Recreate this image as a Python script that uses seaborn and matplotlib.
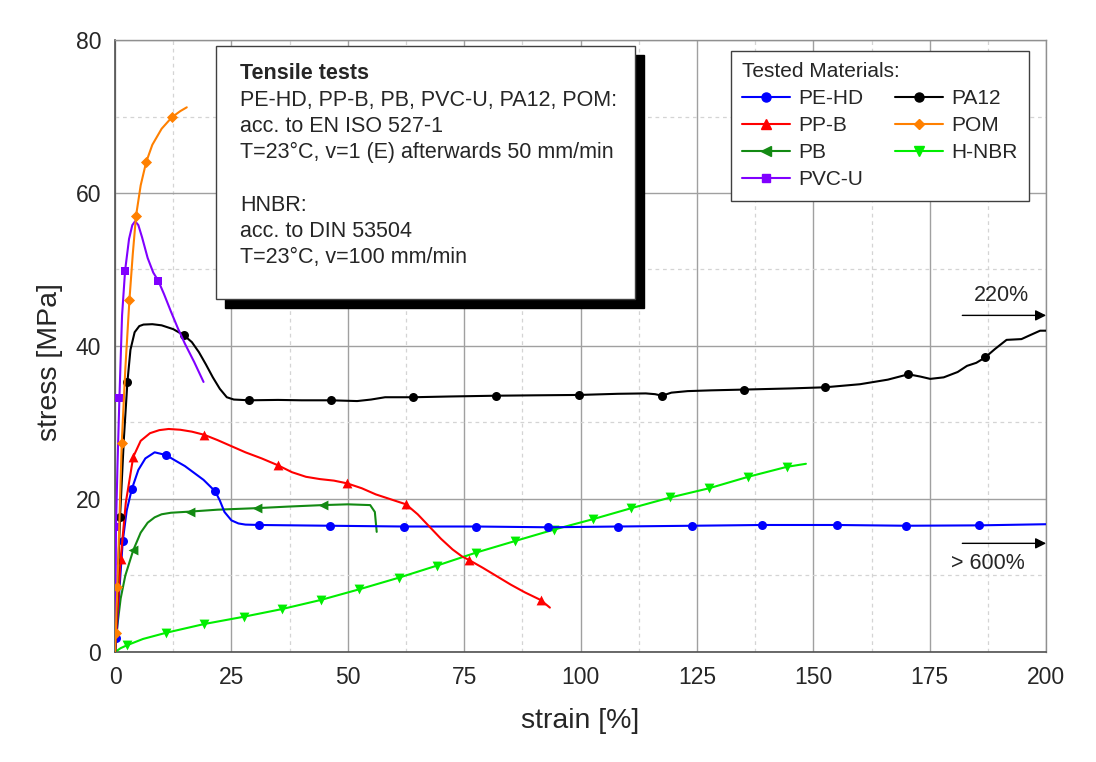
import matplotlib
matplotlib.use("Agg")
import matplotlib.pyplot as plt
import seaborn as sns
import numpy as np
from matplotlib.lines import Line2D
from matplotlib.patches import Rectangle
from matplotlib.ticker import MultipleLocator

# ---------------- data ----------------
materials = ["PE-HD", "PP-B", "PB", "PVC-U", "PA12", "POM", "H-NBR"]

pehd_x = [0, 0.3, 0.8, 1.65, 2.5, 3.6, 5, 6.5, 8.5, 10.9, 13, 15, 17, 19, 21.5, 22.5, 23.5, 25, 26.5, 28, 31, 46.2, 62, 77.5, 93, 108, 124, 139, 155, 170, 185.5, 200]
pehd_y = [0, 1.8, 7, 14.5, 18.5, 21.3, 23.8, 25.3, 26.1, 25.75, 25.0, 24.3, 23.4, 22.5, 21.0, 19.8, 18.3, 17.2, 16.8, 16.65, 16.6, 16.5, 16.4, 16.4, 16.3, 16.4, 16.5, 16.6, 16.6, 16.5, 16.55, 16.7]
pehd_mx = [0.3, 1.65, 3.6, 10.9, 21.5, 31, 46.2, 62, 77.5, 93, 108, 124, 139, 155, 170, 185.5]
pehd_my = [1.8, 14.5, 21.3, 25.75, 21.0, 16.6, 16.5, 16.4, 16.4, 16.3, 16.4, 16.5, 16.6, 16.6, 16.5, 16.55]

ppb_x = [0, 0.5, 1.2, 2.3, 3.9, 5.5, 7.5, 9.5, 11.5, 14, 16.5, 19.1, 22, 25, 28, 31.5, 35, 38, 41, 44, 47, 49.8, 53, 56, 59, 62.5, 65, 67.5, 70, 72.5, 74.5, 76.1, 79, 82, 85, 88, 91.4, 93.4]
ppb_y = [0, 5, 12.2, 19.5, 25.5, 27.6, 28.6, 29.0, 29.15, 29.05, 28.8, 28.4, 27.7, 26.9, 26.1, 25.3, 24.4, 23.5, 22.9, 22.6, 22.4, 22.05, 21.4, 20.6, 20.0, 19.3, 18.0, 16.4, 14.8, 13.4, 12.5, 12.0, 11.0, 9.9, 8.8, 7.8, 6.8, 5.8]
ppb_mx = [1.2, 3.9, 19.1, 35, 49.8, 62.5, 76.1, 91.4]
ppb_my = [12.2, 25.5, 28.4, 24.4, 22.05, 19.3, 12.0, 6.8]

pb_x = [0, 0.5, 1.2, 2.2, 3.9, 5.5, 7, 8.5, 10, 12, 16.1, 22, 30.4, 37, 44.6, 50, 54.8, 55.8, 56.2]
pb_y = [0, 3.5, 7, 10, 13.3, 15.6, 16.9, 17.6, 18.0, 18.2, 18.35, 18.6, 18.8, 19.0, 19.2, 19.3, 19.2, 18.3, 15.7]
pb_mx = [3.9, 16.1, 30.4, 44.6]
pb_my = [13.3, 18.35, 18.8, 19.2]

pvc_x = [0, 0.2, 0.5, 0.93, 1.5, 2.15, 3.0, 3.7, 4.3, 5.0, 5.8, 7.0, 8.2, 9.3, 10.5, 12, 13.5, 15, 17, 19]
pvc_y = [0, 16.4, 24, 33.2, 44, 49.85, 54, 55.8, 56.3, 55.8, 54.2, 51.5, 49.6, 48.5, 46.8, 44.5, 42.3, 40.3, 37.9, 35.3]
pvc_mx = [0.2, 0.93, 2.15, 9.3]
pvc_my = [16.4, 33.2, 49.85, 48.5]

pa12_x = [0, 0.4, 1.07, 1.9, 2.65, 3.3, 4.2, 5.2, 6.1, 8, 10, 12.5, 14.8, 16.5, 18, 19.5, 21, 22.5, 24, 25.5, 28.8, 35, 40, 46.4, 52, 55, 58, 64.1, 72, 81.9, 90, 99.7, 108, 114, 116, 117.5, 119.5, 123, 128, 135, 145, 152.5, 160, 166, 170.4, 173, 175.1, 178, 181, 183, 185, 186.9, 189, 191.5, 194.7, 196.5, 198.7, 200]
pa12_y = [0, 6, 17.7, 28, 35.3, 39.5, 41.8, 42.6, 42.8, 42.85, 42.7, 42.2, 41.4, 40.5, 39.2, 37.6, 35.9, 34.4, 33.3, 33.0, 32.9, 32.95, 32.9, 32.9, 32.8, 33.0, 33.3, 33.3, 33.4, 33.5, 33.55, 33.6, 33.75, 33.8, 33.7, 33.5, 33.9, 34.1, 34.2, 34.3, 34.45, 34.6, 35.0, 35.6, 36.3, 36.0, 35.7, 35.9, 36.6, 37.4, 37.8, 38.5, 39.6, 40.8, 40.9, 41.4, 42.0, 42.0]
pa12_mx = [1.07, 2.65, 14.8, 28.8, 46.4, 64.1, 81.9, 99.7, 117.5, 135, 152.5, 170.4, 186.9]
pa12_my = [17.7, 35.3, 41.4, 32.9, 32.9, 33.3, 33.5, 33.6, 33.5, 34.3, 34.6, 36.3, 38.5]

pom_x = [0, 0.15, 0.5, 1.0, 1.43, 2.2, 3.08, 3.8, 4.5, 5.5, 6.66, 8, 10, 12.2, 14, 15.4]
pom_y = [0, 2.5, 8.5, 18.5, 27.3, 37, 46, 52, 57, 61, 64, 66.3, 68.4, 69.9, 70.7, 71.2]
pom_mx = [0.15, 0.5, 1.43, 3.08, 4.5, 6.66, 12.2]
pom_my = [2.5, 8.5, 27.3, 46, 57, 64, 69.9]

hnbr_x = [0, 1.2, 2.65, 6, 10.9, 19.2, 27.6, 35.8, 44.2, 52.5, 60.9, 69.2, 77.6, 85.9, 94.3, 102.6, 110.9, 119.3, 127.6, 136, 144.3, 148.4]
hnbr_y = [0, 0.5, 0.9, 1.7, 2.5, 3.66, 4.6, 5.6, 6.8, 8.2, 9.7, 11.3, 13.0, 14.5, 16.0, 17.35, 18.8, 20.2, 21.4, 22.9, 24.2, 24.6]
hnbr_mx = [2.65, 10.9, 19.2, 27.6, 35.8, 44.2, 52.5, 60.9, 69.2, 77.6, 85.9, 94.3, 102.6, 110.9, 119.3, 127.6, 136, 144.3]
hnbr_my = [0.9, 2.5, 3.66, 4.6, 5.6, 6.8, 8.2, 9.7, 11.3, 13.0, 14.5, 16.0, 17.35, 18.8, 20.2, 21.4, 22.9, 24.2]

box_title = "Tensile tests"
box_lines = ["PE-HD, PP-B, PB, PVC-U, PA12, POM:",
             "acc. to EN ISO 527-1",
             "T=23°C, v=1 (E) afterwards 50 mm/min",
             "",
             "HNBR:",
             "acc. to DIN 53504",
             "T=23°C, v=100 mm/min"]
legend_title = "Tested Materials:"
arrow_labels = ["220%", "> 600%"]

# ---------------- style ----------------
sns.set_style("white")
plt.rcParams['font.family'] = ['Liberation Sans', 'DejaVu Sans']
plt.rcParams['mathtext.default'] = 'regular'

fig = plt.figure(figsize=(10.96, 7.62), dpi=100)
ax = fig.add_axes([0.105, 0.1444, 0.8495, 0.8031])

series = [
    (pehd_x, pehd_y, pehd_mx, pehd_my, "#0000ff", "o"),
    (ppb_x, ppb_y, ppb_mx, ppb_my, "#ff0000", "^"),
    (pb_x, pb_y, pb_mx, pb_my, "#138a13", "<"),
    (pvc_x, pvc_y, pvc_mx, pvc_my, "#8000ff", "s"),
    (pa12_x, pa12_y, pa12_mx, pa12_my, "#000000", "o"),
    (pom_x, pom_y, pom_mx, pom_my, "#ff8000", "D"),
    (hnbr_x, hnbr_y, hnbr_mx, hnbr_my, "#00ee00", "v"),
]
sizes = {"o": 42, "^": 50, "<": 50, "s": 32, "D": 32, "v": 50}

# draw order: H-NBR, PB, PE-HD, PP-B, PA12, PVC-U, POM
order = [6, 2, 0, 1, 4, 3, 5]
for z, i in enumerate(order):
    x, y, mx, my, c, m = series[i]
    sns.lineplot(x=x, y=y, sort=False, estimator=None, color=c, lw=1.5, ax=ax, zorder=3 + z)
    sns.scatterplot(x=mx, y=my, marker=m, color=c, s=sizes[m], edgecolor=c, linewidth=0,
                    ax=ax, zorder=3 + z)

ax.set_xlim(0, 200)
ax.set_ylim(0, 80)
ax.xaxis.set_major_locator(MultipleLocator(25))
ax.xaxis.set_minor_locator(MultipleLocator(12.5))
ax.yaxis.set_major_locator(MultipleLocator(20))
ax.yaxis.set_minor_locator(MultipleLocator(10))
ax.grid(which='major', color='#a0a0a0', lw=1.0, ls='-', zorder=0)
ax.grid(which='minor', color='#d4d4d4', lw=0.9, ls=(0, (3, 3)), zorder=0)
ax.set_axisbelow(True)
ax.tick_params(which='both', direction='in', labelsize=16.5, color='#505050', pad=10)
ax.tick_params(which='major', length=7, width=1)
ax.tick_params(which='minor', length=4, width=1)
ax.tick_params(top=False, right=False)
for s in ['left', 'bottom']:
    ax.spines[s].set_color('#505050')
    ax.spines[s].set_linewidth(1.2)
for s in ['top', 'right']:
    ax.spines[s].set_color('#909090')
    ax.spines[s].set_linewidth(1.0)

ax.set_xlabel("strain [%]", fontsize=20.5, labelpad=14)
ax.set_ylabel("stress [MPa]", fontsize=20.5)
ax.yaxis.set_label_coords(-0.056, 0.474)

# ---------------- text box with shadow ----------------
bx0, bx1 = (216 - 115) / 931, (635 - 115) / 931
by0, by1 = (652 - 299) / 612, (652 - 46) / 612
dx, dy = 9 / 931, 9 / 612
ax.add_patch(Rectangle((bx0 + dx, by0 - dy), bx1 - bx0, by1 - by0, transform=ax.transAxes,
                       facecolor='black', edgecolor='black', zorder=20))
ax.add_patch(Rectangle((bx0, by0), bx1 - bx0, by1 - by0, transform=ax.transAxes,
                       facecolor='white', edgecolor='#404040', lw=1.0, zorder=21))
tx = (240 - 115) / 931
ax.text(tx, (652 - 73) / 612, box_title, transform=ax.transAxes, fontsize=15.5,
        fontweight='bold', va='center', ha='left', zorder=22)
ypix = [100, 126.5, 152.5, 179, 206, 232, 258]
for t, yp in zip(box_lines, ypix):
    if t:
        ax.text(tx, (652 - yp) / 612, t, transform=ax.transAxes, fontsize=15.5,
                va='center', ha='left', zorder=22)

# ---------------- legend ----------------
handles = []
for i, name in enumerate(materials):
    x, y, mx, my, c, m = series[i]
    handles.append(Line2D([], [], color=c, lw=1.5, marker=m, markersize=6.5 if m in "o^<v" else 5.5,
                          markerfacecolor=c, markeredgecolor=c, label=name))
leg = ax.legend(handles=handles, ncol=2, loc='upper right',
                bbox_to_anchor=(0.9817, (652 - 51) / 612), borderaxespad=0,
                title=legend_title, fontsize=15, title_fontsize=15, frameon=True,
                fancybox=False, edgecolor='#404040', framealpha=1, alignment='left',
                handlelength=2.3, handletextpad=0.4, columnspacing=1.5, labelspacing=0.38,
                borderpad=0.55)
leg.get_frame().set_linewidth(1.0)
leg.set_zorder(30)

# ---------------- arrows ----------------
ap = dict(arrowstyle='-|>', color='black', lw=1.0, mutation_scale=16, shrinkA=0, shrinkB=0)
ax.annotate("", xy=(200, 44.0), xytext=(182, 44.0), arrowprops=ap, zorder=25, annotation_clip=False)
ax.text(190.5, 46.6, arrow_labels[0], fontsize=15.5, ha='center', va='center')
ax.annotate("", xy=(200, 14.2), xytext=(182, 14.2), arrowprops=ap, zorder=25, annotation_clip=False)
ax.text(187.5, 11.5, arrow_labels[1], fontsize=15.5, ha='center', va='center')

fig.savefig("out.png", dpi=100, facecolor='white')
